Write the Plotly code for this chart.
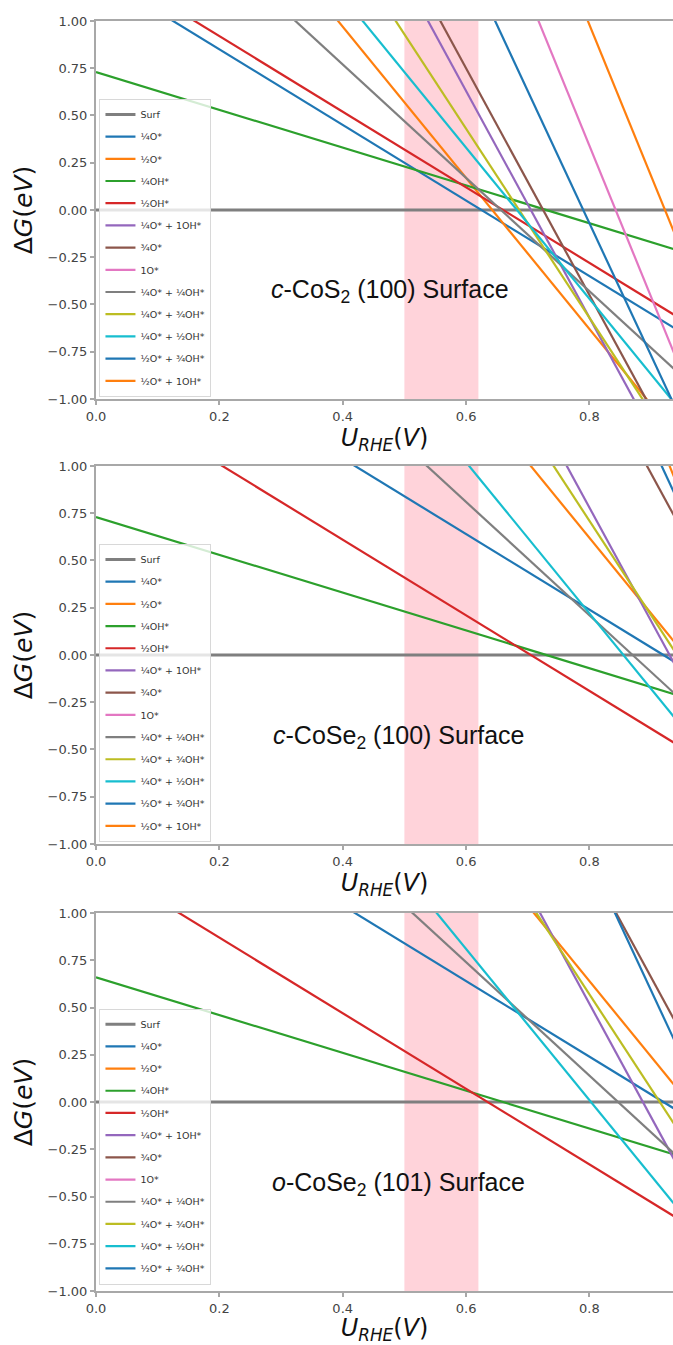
import plotly.graph_objects as go

# ---------------- data ----------------
U_ENDS = [0.0, 1.0]   # potential U_RHE (V) at which each line's dG is given

labels = ["Surf", "¼O*", "½O*", "¼OH*", "½OH*", "¼O* + 1OH*", "¾O*", "1O*",
          "¼O* + ¼OH*", "¼O* + ¾OH*", "¼O* + ½OH*", "½O* + ¾OH*", "½O* + 1OH*"]
colors = ["#7f7f7f", "#1f77b4", "#ff7f0e", "#2ca02c", "#d62728", "#9467bd", "#8c564b",
          "#e377c2", "#7f7f7f", "#bcbd22", "#17becf", "#1f77b4", "#ff7f0e"]

# dG (eV) at U = 0 V and at U = 1 V for each adsorbate configuration
cos2_dG_U0 = [0.00, 1.25, 2.57, 0.73, 1.32, 4.23, 4.35, 6.74, 1.97, 3.43, 2.73, 5.53, 7.38]
cos2_dG_U1 = [0.00, -0.75, -1.43, -0.27, -0.68, -1.77, -1.65, -1.26, -1.03, -1.57, -1.27, -1.47, -0.62]

ccose2_dG_U0 = [0.00, 1.84, 3.82, 0.73, 1.41, 5.58, 6.36, 8.70, 2.61, 4.71, 3.42, 7.42, 8.44]
ccose2_dG_U1 = [0.00, -0.16, -0.18, -0.27, -0.59, -0.42, 0.36, 0.70, -0.39, -0.29, -0.58, 0.42, 0.44]

ocose2_dG_U0 = [0.00, 1.84, 3.84, 0.66, 1.27, 5.32, 6.06, 8.68, 2.54, 4.57, 3.21, 6.89]
ocose2_dG_U1 = [0.00, -0.16, -0.16, -0.34, -0.73, -0.68, 0.06, 0.68, -0.46, -0.43, -0.79, -0.11]

panel_titles = ["<i>c</i>-CoS<sub>2</sub> (100) Surface",
                "<i>c</i>-CoSe<sub>2</sub> (100) Surface",
                "<i>o</i>-CoSe<sub>2</sub> (101) Surface"]
title_pos_U = [0.477, 0.491, 0.491]
title_pos_dG = [-0.43, -0.433, -0.436]

band_U = [0.50, 0.62]
x_range = [0.0, 0.9355]
y_range = [-1.0, 1.0]
y_ticks = [-1.0, -0.75, -0.5, -0.25, 0.0, 0.25, 0.5, 0.75, 1.0]
x_ticks = [0.0, 0.2, 0.4, 0.6, 0.8]

panels = [(cos2_dG_U0, cos2_dG_U1), (ccose2_dG_U0, ccose2_dG_U1), (ocose2_dG_U0, ocose2_dG_U1)]

# ---------------- figure ----------------
fig = go.Figure()
domains = [[0.7024, 1.0], [0.352, 0.6496], [0.0, 0.2976]]
legend_names = ["legend", "legend2", "legend3"]
legend_y = [0.7040, 0.3536, 0.0050]

for p, (d0, d1) in enumerate(panels):
    xa = "x" if p == 0 else f"x{p+1}"
    ya = "y" if p == 0 else f"y{p+1}"
    for i in range(len(d0)):
        fig.add_trace(go.Scatter(
            x=U_ENDS, y=[d0[i], d1[i]], mode="lines",
            line=dict(color=colors[i], width=3 if i == 0 else 2.2),
            name=labels[i], xaxis=xa, yaxis=ya,
            legend=legend_names[p], legendgroup=f"p{p}_{i:02d}",
            showlegend=True))
    # pink highlighted band
    fig.add_shape(type="rect", xref=xa, yref=f"{ya} domain",
                  x0=band_U[0], x1=band_U[1], y0=0, y1=1,
                  fillcolor="rgba(255,192,203,0.7)", line_width=0, layer="below")
    fig.add_annotation(x=title_pos_U[p], y=title_pos_dG[p], xref=xa, yref=ya,
                       text=panel_titles[p], showarrow=False,
                       font=dict(family="Liberation Sans, Arial", size=25, color="#111"))

axis_common = dict(showline=True, linecolor="#a8a8a8", linewidth=2,
                   ticks="outside", ticklen=4, tickwidth=1.5, tickcolor="#a8a8a8",
                   showgrid=False, zeroline=False,
                   tickfont=dict(family="DejaVu Sans", size=13, color="#444"))

layout = dict(
    width=673, height=1345,
    margin=dict(l=96, r=0, t=21, b=54),
    plot_bgcolor="white", paper_bgcolor="white",
    showlegend=True,
)
for p in range(3):
    xk = "xaxis" if p == 0 else f"xaxis{p+1}"
    yk = "yaxis" if p == 0 else f"yaxis{p+1}"
    ya = "y" if p == 0 else f"y{p+1}"
    xa = "x" if p == 0 else f"x{p+1}"
    layout[xk] = dict(axis_common, range=x_range, tickvals=x_ticks, tickformat=".1f",
                      anchor=ya, domain=[0, 1], mirror=True,
                      title=dict(text="<i>U</i><sub><i>RHE</i></sub>(<i>V</i>)",
                                 font=dict(family="DejaVu Sans", size=24, color="#111"),
                                 standoff=6))
    layout[yk] = dict(axis_common, range=y_range, tickvals=y_ticks, tickformat=".2f",
                      anchor=xa, domain=domains[p],
                      title=dict(text="Δ<i>G</i>(<i>eV</i>)",
                                 font=dict(family="DejaVu Sans", size=25, color="#111"),
                                 standoff=8))
    layout[legend_names[p]] = dict(
        x=0.006, y=legend_y[p], xanchor="left", yanchor="bottom",
        bgcolor="rgba(255,255,255,0.8)", bordercolor="#d8d8d8", borderwidth=1,
        font=dict(family="DejaVu Sans", size=9.5, color="#333"),
        tracegroupgap=3.2, traceorder="grouped")

fig.update_layout(**layout)
fig.write_html("out.html")
